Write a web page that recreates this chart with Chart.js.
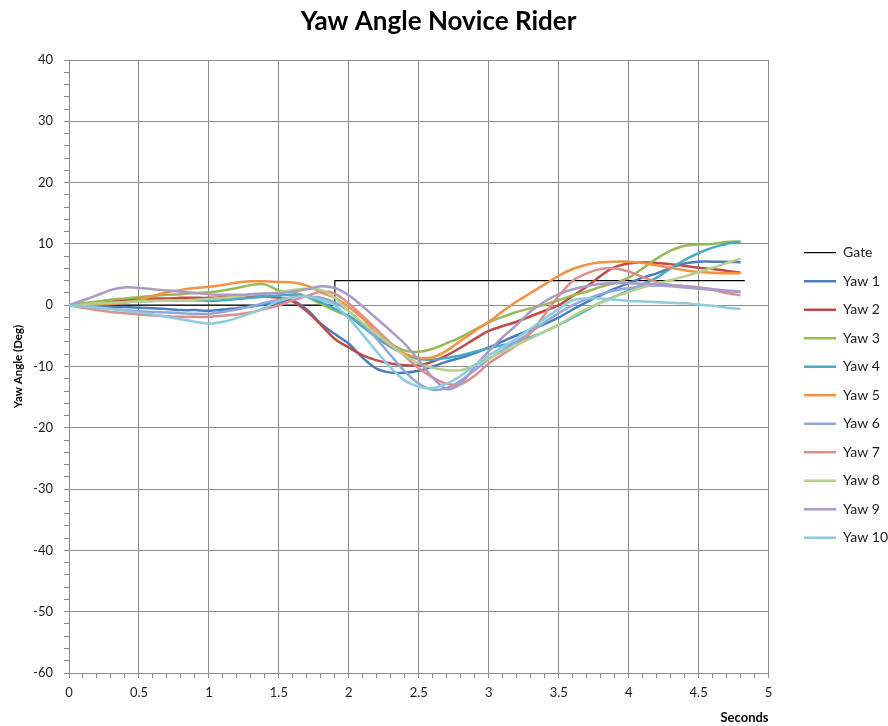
<!DOCTYPE html>
<html>
<head>
<meta charset="utf-8">
<title>Yaw Angle Novice Rider</title>
<script src="https://cdn.jsdelivr.net/npm/chart.js@4.4.1/dist/chart.umd.min.js"></script>
<style>
	html, body { margin: 0; padding: 0; background: #fff; }
</style>
</head>
<body>
<canvas id="yawChart" width="888" height="726"></canvas>
<script>

// time base for every run (s)
var seconds = [0, 0.1, 0.2, 0.3, 0.4, 0.5, 0.6, 0.7, 0.8, 0.9,
	1.0, 1.1, 1.2, 1.3, 1.4, 1.5, 1.6, 1.7, 1.8, 1.9,
	2.0, 2.1, 2.2, 2.3, 2.4, 2.5, 2.6, 2.7, 2.8, 2.9,
	3.0, 3.1, 3.2, 3.3, 3.4, 3.5, 3.6, 3.7, 3.8, 3.9,
	4.0, 4.1, 4.2, 4.3, 4.4, 4.5, 4.6, 4.7, 4.8];

// yaw angle per run (deg)
var yaw1 = [0, -0.1, -0.2, -0.3, -0.3, -0.4, -0.5, -0.6, -0.8, -0.8,
	-0.9, -0.7, -0.5, -0.2, 0.1, 0.4, 0.7, -0.7, -3.0, -4.7,
	-6.3, -8.6, -10.4, -11.0, -11.0, -10.7, -10.0, -9.2, -8.6, -7.8,
	-6.9, -5.9, -4.9, -4.0, -3.1, -2.0, -0.7, 0.5, 1.6, 2.7,
	3.6, 4.5, 5.2, 6.1, 6.8, 7.1, 7.1, 7.1, 7.0];
var yaw2 = [0, 0.2, 0.4, 0.6, 0.8, 1.0, 1.1, 1.1, 1.2, 1.2,
	1.2, 1.3, 1.4, 1.5, 1.4, 1.2, 0.6, -1.0, -3.2, -5.5,
	-6.9, -8.2, -9.0, -9.5, -9.8, -9.8, -9.2, -8.2, -6.9, -5.5,
	-4.2, -3.4, -2.7, -1.8, -0.9, 0.0, 1.5, 3.0, 4.8, 6.2,
	6.8, 7.0, 6.9, 6.7, 6.4, 6.1, 5.9, 5.6, 5.3];
var yaw3 = [0, 0.3, 0.6, 0.9, 1.1, 1.3, 1.5, 1.7, 1.8, 2.0,
	2.1, 2.4, 2.8, 3.3, 3.4, 2.4, 2.1, 1.4, 0.2, -0.9,
	-1.8, -3.2, -4.8, -6.3, -7.4, -7.6, -7.1, -6.2, -5.2, -4.0,
	-2.8, -1.9, -1.1, -0.5, 0.1, 0.8, 1.6, 2.2, 3.0, 3.6,
	4.5, 6.0, 7.6, 8.9, 9.7, 9.9, 10.0, 10.3, 10.4];
var yaw4 = [0, 0.1, 0.2, 0.4, 0.5, 0.6, 0.7, 0.8, 0.8, 0.8,
	0.7, 0.8, 1.0, 1.2, 1.4, 1.6, 1.7, 1.4, 0.5, -0.6,
	-1.8, -3.5, -5.3, -6.8, -8.0, -8.8, -8.9, -8.6, -8.2, -7.6,
	-7.0, -6.5, -6.0, -5.2, -4.3, -3.2, -2.0, -0.8, 0.4, 1.4,
	2.4, 3.4, 4.5, 6.0, 7.4, 8.5, 9.4, 10.0, 10.3];
var yaw5 = [0, 0.0, 0.1, 0.2, 0.4, 0.8, 1.5, 2.1, 2.5, 2.8,
	3.0, 3.3, 3.7, 3.9, 3.9, 3.8, 3.7, 3.2, 2.1, 1.2,
	-0.3, -2.2, -4.6, -6.6, -7.9, -8.6, -8.5, -7.4, -5.8, -4.2,
	-2.7, -1.0, 0.6, 2.0, 3.4, 4.8, 5.9, 6.6, 7.0, 7.1,
	7.1, 6.9, 6.5, 6.1, 5.7, 5.4, 5.3, 5.2, 5.2];
var yaw6 = [0, -0.2, -0.4, -0.6, -0.8, -1.0, -1.1, -1.2, -1.3, -1.4,
	-1.4, -1.1, -0.7, -0.2, 0.4, 0.9, 1.3, 1.4, 1.2, 0.4,
	-1.0, -3.0, -5.5, -8.2, -10.8, -12.8, -13.8, -13.5, -12.3, -10.6,
	-8.8, -7.3, -5.9, -4.4, -2.8, -1.3, 0.0, 1.0, 1.8, 2.4,
	2.8, 3.1, 3.2, 3.1, 2.9, 2.7, 2.5, 2.3, 2.1];
var yaw7 = [0, -0.4, -0.8, -1.1, -1.3, -1.5, -1.7, -1.8, -1.9, -1.9,
	-1.9, -1.7, -1.5, -1.2, -0.6, 0.0, 0.8, 1.5, 2.2, 1.9,
	0.3, -1.8, -4.0, -6.2, -8.3, -10.3, -11.8, -12.8, -12.9, -11.5,
	-9.5, -8.0, -6.5, -4.5, -1.5, 1.5, 4.0, 5.2, 5.9, 6.0,
	5.5, 4.6, 3.8, 3.3, 3.1, 2.9, 2.5, 2.0, 1.6];
var yaw8 = [0, 0.1, 0.3, 0.4, 0.5, 0.6, 0.7, 0.8, 0.8, 0.9,
	1.0, 1.2, 1.4, 1.7, 1.9, 2.1, 2.5, 2.7, 2.5, 1.2,
	-1.0, -2.9, -4.7, -6.5, -8.2, -9.5, -10.2, -10.6, -10.6, -9.8,
	-8.7, -7.6, -6.5, -5.4, -4.3, -3.2, -1.8, -0.6, 0.4, 1.3,
	2.2, 2.9, 3.5, 4.1, 4.7, 5.4, 6.1, 6.9, 7.6];
var yaw9 = [0, 0.8, 1.6, 2.5, 2.9, 2.8, 2.6, 2.4, 2.2, 2.0,
	1.8, 1.7, 1.7, 1.8, 1.9, 2.0, 2.2, 2.6, 3.1, 2.8,
	1.6, -0.2, -2.2, -4.2, -6.3, -9.0, -11.8, -13.7, -12.8, -10.0,
	-7.5, -5.2, -3.2, -1.0, 0.6, 1.8, 2.6, 3.1, 3.5, 3.6,
	3.6, 3.5, 3.4, 3.3, 3.1, 2.9, 2.6, 2.4, 2.2];
var yaw10 = [0, -0.2, -0.4, -0.6, -0.9, -1.2, -1.5, -1.9, -2.3, -2.7,
	-3.0, -2.7, -2.1, -1.3, -0.4, 0.7, 1.3, 1.4, 0.9, 0.0,
	-2.2, -4.8, -7.6, -10.2, -12.3, -13.3, -13.5, -12.8, -11.5, -9.8,
	-8.2, -6.8, -5.4, -3.8, -2.2, -0.6, 0.8, 1.1, 1.1, 0.9,
	0.7, 0.6, 0.5, 0.4, 0.3, 0.1, -0.1, -0.4, -0.6];

// gate step
var gateSeconds = [0, 1.9, 1.9, 4.83];
var gateValues = [0, 0, 4, 4];

var seriesNames = ["Yaw 1", "Yaw 2", "Yaw 3", "Yaw 4", "Yaw 5", "Yaw 6", "Yaw 7", "Yaw 8", "Yaw 9", "Yaw 10"];
var seriesColors = ["#4A7EBB", "#BE4B48", "#98B954", "#46AAC5", "#F59143",
	"#8FA8D8", "#DA8F8D", "#B7D08F", "#A99BC6", "#8DCBDD"];
var yawSeries = [yaw1, yaw2, yaw3, yaw4, yaw5, yaw6, yaw7, yaw8, yaw9, yaw10];

// labelled ticks
var yTickLabels = [-60, -50, -40, -30, -20, -10, 0, 10, 20, 30, 40];
var xTickLabels = [0, 0.5, 1, 1.5, 2, 2.5, 3, 3.5, 4, 4.5, 5];

var gridColor = "#8C8C8C";
var textColor = "#1E1E1E";
var fontFamily = "Lato, 'Liberation Sans', sans-serif";

function toPoints(xs, ys) {
	return xs.map(function(x, i) { return { x: x, y: ys[i] }; });
}

function isXMajor(v) {
	return xTickLabels.indexOf(Math.round(v * 10) / 10) >= 0;
}

var datasets = [{
	label: "Gate",
	data: toPoints(gateSeconds, gateValues),
	borderColor: "#000000",
	backgroundColor: "#000000",
	borderWidth: 1.2,
	tension: 0,
	order: 11
}];

yawSeries.forEach(function(values, i) {
	datasets.push({
		label: seriesNames[i],
		data: toPoints(seconds, values),
		borderColor: seriesColors[i],
		backgroundColor: seriesColors[i],
		borderWidth: 2.5,
		tension: 0.3,
		// later runs sit on top
		order: 10 - i
	});
});

// push the legend column a little right of the plot
var legendNudge = {
	id: "legendNudge",
	afterLayout: function(chart) {
		var lg = chart.legend;
		var w = lg.right - lg.left;
		lg.left = chart.chartArea.right + 21;
		lg.right = lg.left + w;
	}
};

var ctx = document.getElementById("yawChart");

var yawChart = new Chart(ctx, {
	type: "line",
	data: { datasets: datasets },
	plugins: [legendNudge],
	options: {
		responsive: false,
		animation: false,
		layout: { padding: { left: 0, right: 11, top: 0, bottom: 0 } },
		elements: { point: { radius: 0, hoverRadius: 0 } },
		plugins: {
			tooltip: { enabled: false },
			title: {
				display: true,
				text: "Yaw Angle Novice Rider",
				color: "#000",
				font: { family: fontFamily, size: 26, weight: "bold" },
				padding: { top: 6.4, bottom: 22.4 }
			},
			legend: {
				position: "right",
				title: {
					display: true,
					text: "",
					font: { size: 12 },
					padding: { top: 50, bottom: 0 }
				},
				labels: {
					usePointStyle: true,
					pointStyle: "line",
					pointStyleWidth: 32,
					padding: 14.5,
					color: textColor,
					font: { family: fontFamily, size: 14 },
					sort: function(a, b) { return a.datasetIndex - b.datasetIndex; }
				}
			}
		},
		scales: {
			x: {
				type: "linear",
				min: 0,
				max: 5,
				afterFit: function(scale) { scale.height = 53; },
				ticks: {
					stepSize: 0.1,
					autoSkip: false,
					maxRotation: 0,
					padding: 7,
					color: textColor,
					font: { family: fontFamily, size: 13 },
					callback: function(v) {
						return isXMajor(v) ? String(Math.round(v * 10) / 10) : "";
					}
				},
				grid: {
					color: function(c) {
						return c.tick && isXMajor(c.tick.value) ? gridColor : "rgba(0,0,0,0)";
					},
					tickColor: gridColor,
					tickLength: 5
				},
				border: { color: gridColor },
				title: {
					display: true,
					text: "Seconds",
					align: "end",
					color: "#000",
					font: { family: fontFamily, size: 13, weight: "bold" },
					padding: { top: 0, bottom: 0.5 }
				}
			},
			y: {
				min: -60,
				max: 40,
				afterFit: function(scale) { scale.width = 69; },
				ticks: {
					stepSize: 2,
					autoSkip: false,
					padding: 11,
					color: textColor,
					font: { family: fontFamily, size: 13 },
					callback: function(v) {
						return yTickLabels.indexOf(v) >= 0 ? String(v) : "";
					}
				},
				grid: {
					color: function(c) {
						return c.tick && yTickLabels.indexOf(c.tick.value) >= 0 ? gridColor : "rgba(0,0,0,0)";
					},
					tickColor: gridColor,
					tickLength: 5
				},
				border: { color: gridColor },
				title: {
					display: true,
					text: "Yaw Angle (Deg)",
					color: "#000",
					font: { family: fontFamily, size: 11.5, weight: "bold" },
					padding: { top: 11, bottom: 0 }
				}
			}
		}
	}
});

</script>
</body>
</html>
